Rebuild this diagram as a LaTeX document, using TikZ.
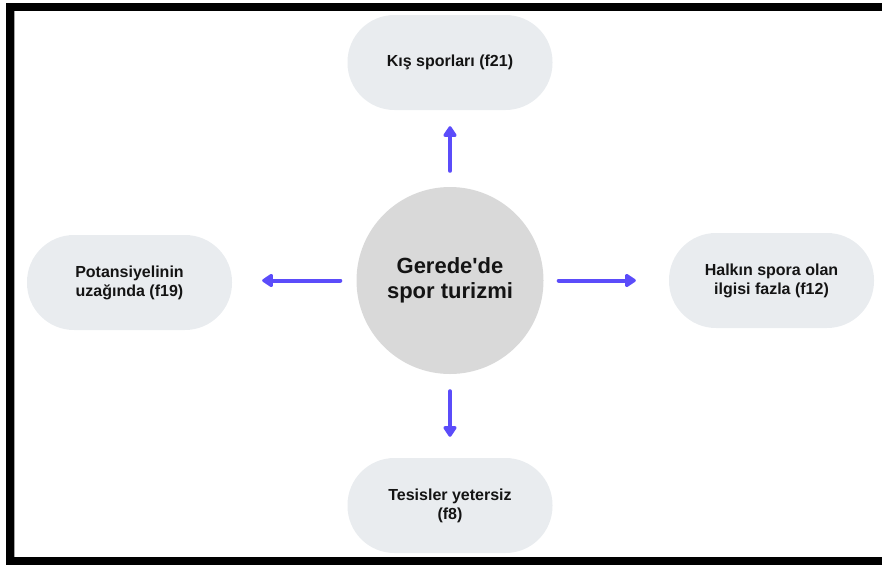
\documentclass[tikz,border=0pt]{standalone}
\usepackage{fontspec}
\setmainfont{Liberation Sans}
\usetikzlibrary{arrows.meta}
\definecolor{pillfill}{HTML}{E9ECEF}
\definecolor{circfill}{HTML}{D9D9D9}
\definecolor{arrowcol}{HTML}{5B4CFA}
\definecolor{txt}{HTML}{141414}
\tikzset{
  pill/.style={draw=none, fill=pillfill, rounded corners=47pt, minimum width=205pt, minimum height=95pt,
    align=center, text=txt, font=\bfseries\fontsize{16}{19}\selectfont, inner sep=0pt},
  hub/.style={circle, fill=circfill, minimum size=187pt, inner sep=0pt, align=center, text=txt,
    font=\bfseries\fontsize{22}{25}\selectfont},
  conn/.style={draw=arrowcol, line width=4pt, line cap=round, -{Triangle[width=15pt,length=12pt,round]}},
  framebar/.style={fill=black, draw=none}
}
\begin{document}
\begin{tikzpicture}[x=1pt,y=-1pt]
\useasboundingbox (0,0) rectangle (882,565);
% frame
\fill[framebar] (6,3) rectangle (882,11);
\fill[framebar] (6,3) rectangle (14,565);
\fill[framebar] (6,557) rectangle (882,565);
\draw[gray!70, line width=0.8pt] (14.4,11) -- (14.4,557);
% nodes
\node[hub] (c) at (450,280.5) {Gerede\textquotesingle de\\spor turizmi};
\node[pill] (top) at (450,62.5) {Kış sporları (f21)};
\node[pill] (left) at (129.5,282.5) {Potansiyelinin\\uzağında (f19)};
\node[pill] (right) at (771.5,280.5) {Halkın spora olan\\ilgisi fazla (f12)};
\node[pill] (bottom) at (450,505.5) {Tesisler yetersiz\\(f8)};
% connectors
\draw[conn, shorten <=16pt, shorten >=16pt] (c.north) -- (top.south);
\draw[conn, shorten <=15pt, shorten >=33pt] (c.east) -- (c.east -| right.west);
\draw[conn, shorten <=16pt, shorten >=30pt] (c.west) -- (c.west -| left.east);
\draw[conn, shorten <=17pt, shorten >=21pt] (c.south) -- (bottom.north);
\end{tikzpicture}
\end{document}
